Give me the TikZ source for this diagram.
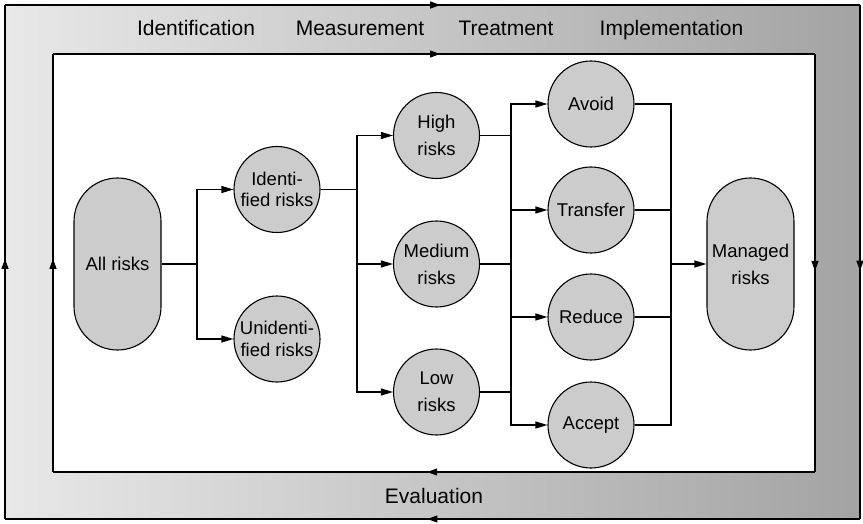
\documentclass[tikz,border=0pt]{standalone}
\usepackage{fontspec}
\setmainfont{Liberation Sans}
\usetikzlibrary{arrows.meta,decorations.markings}
\definecolor{nodegray}{HTML}{CCCCCC}
\begin{document}
\begin{tikzpicture}[x=1pt,y=-1pt,
 riskcircle/.style={circle,draw,line width=1.1pt,fill=nodegray,minimum size=86pt,inner sep=0pt,align=center,font=\fontsize{18.5}{27}\selectfont},
 tight/.style={font=\fontsize{18.5}{21.5}\selectfont},
 stadium/.style={rectangle,rounded corners=43.5pt,draw,line width=1.1pt,fill=nodegray,minimum width=87pt,minimum height=172pt,inner sep=0pt,align=center,font=\fontsize{18.5}{27}\selectfont},
 conn/.style={line width=1.1pt},
 arr/.style={conn,-{Triangle[length=12pt,width=7pt]}},
 bandlabel/.style={font=\fontsize{21}{25}\selectfont,anchor=base,inner sep=0pt},
 flow/.style={line width=1.1pt,postaction={decorate},decoration={markings,mark=at position #1 with {\arrow{Triangle[length=10pt,width=7pt]}}}},
]
\useasboundingbox (0,0) rectangle (863,524);
% frame band
\shade[left color=black!9,right color=black!36] (5,5) rectangle (860,519);
\fill[white] (53,54) rectangle (815,472);
\coordinate (o1) at (5,5);
\coordinate (o2) at (860,5);
\coordinate (o3) at (860,519);
\coordinate (o4) at (5,519);
\coordinate (i1) at (53,54);
\coordinate (i2) at (815,54);
\coordinate (i3) at (815,472);
\coordinate (i4) at (53,472);
\draw[flow=0.509] (o1) -- (o2);
\draw[flow=0.517] (o2) -- (o3);
\draw[flow=0.506] (o3) -- (o4);
\draw[flow=0.506] (o4) -- (o1);
\draw[flow=0.508] (i1) -- (i2);
\draw[flow=0.519] (i2) -- (i3);
\draw[flow=0.509] (i3) -- (i4);
\draw[flow=0.51] (i4) -- (i1);
% band labels
\node[bandlabel] (lid) at (196,36) {Identification};
\node[bandlabel] (lme) at (360,36) {Measurement};
\node[bandlabel] (ltr) at (506,36) {Treatment};
\node[bandlabel] (lim) at (671.5,36) {Implementation};
\node[bandlabel] (lev) at (434,503) {Evaluation};
% nodes
\node[stadium] (all) at (117.5,264) {All risks};
\node[riskcircle,tight] (ident) at (277,189.5) {Identi-\\fied risks};
\node[riskcircle,tight] (unid) at (277,339) {Unidenti-\\fied risks};
\node[riskcircle] (high) at (436.5,135.5) {High\\risks};
\node[riskcircle] (med) at (436.5,264) {Medium\\risks};
\node[riskcircle] (low) at (436.5,392) {Low\\risks};
\node[riskcircle] (avoid) at (591,104) {Avoid};
\node[riskcircle] (transfer) at (591,210) {Transfer};
\node[riskcircle] (reduce) at (591,317) {Reduce};
\node[riskcircle] (accept) at (591,425) {Accept};
\node[stadium] (managed) at (750.5,264) {Managed\\risks};
% junctions
\coordinate (j1) at (197,264);
\coordinate (j2) at (357,189.5);
\coordinate (j3) at (511,264);
\coordinate (j4) at (671,264);
% connectors
\draw[conn] (all.east) -- (j1);
\draw[arr] (j1) |- (ident.west);
\draw[arr] (j1) |- (unid.west);
\draw[conn] (ident.east) -- (j2);
\draw[arr] (j2) |- (high.west);
\draw[arr] (j2) |- (med.west);
\draw[arr] (j2) |- (low.west);
\draw[conn] (high.east) -- (high.east -| j3);
\draw[conn] (med.east) -- (j3);
\draw[conn] (low.east) -- (low.east -| j3);
\draw[arr] (j3) |- (avoid.west);
\draw[arr] (j3) |- (transfer.west);
\draw[arr] (j3) |- (reduce.west);
\draw[arr] (j3) |- (accept.west);
\draw[conn] (avoid.east) -| (j4);
\draw[conn] (transfer.east) -| (j4);
\draw[conn] (reduce.east) -| (j4);
\draw[conn] (accept.east) -| (j4);
\draw[arr] (j4) -- (managed.west);
\end{tikzpicture}
\end{document}
